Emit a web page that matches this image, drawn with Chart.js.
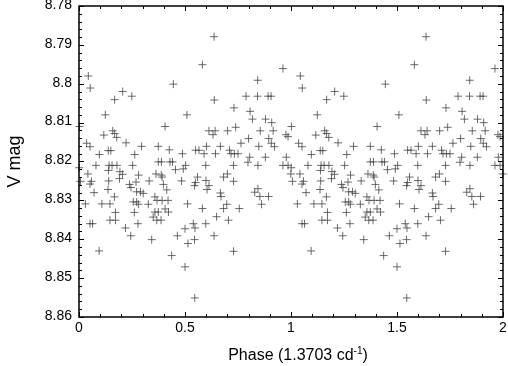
<!DOCTYPE html>
<html>
<head>
<meta charset="utf-8">
<script src="https://cdn.jsdelivr.net/npm/chart.js@4/dist/chart.umd.min.js"></script>
<style>
html, body { margin: 0; padding: 0; background: #fff; }
#wrap { width: 508px; height: 366px; }
</style>
</head>
<body>
<div id="wrap"><canvas id="lightCurve" width="508" height="366"></canvas></div>
<script>
//Folded light curve, one cycle
const phase = [
    0.044, 0.053, 0.168, 0.206, 0.249, 0.445, 0.124, 0.406, 0.509, 0.002,
    0.159, 0.168, 0.178, 0.117, 0.036, 0.052, 0.222, 0.638, 0.788, 0.842,
    0.892, 0.906, 0.637, 0.582, 0.962, 0.843, 0.731, 0.807, 0.818, 0.880,
    0.909, 0.613, 0.642, 0.632, 0.701, 0.739, 0.855, 0.916, 0.976, 0.986,
    0.800, 0.895, 0.764, 0.096, 0.138, 0.150, 0.263, 0.080, 0.142, 0.156,
    0.179, 0.253, 0.042, 0.139, 0.193, 0.205, 0.191, 0.007, 0.059, 0.052,
    0.071, 0.140, 0.137, 0.167, 0.238, 0.245, 0.030, 0.108, 0.146, 0.172,
    0.146, 0.172, 0.052, 0.064, 0.219, 0.244, 0.095, 0.001, 0.295, 0.374,
    0.426, 0.488, 0.374, 0.389, 0.429, 0.441, 0.455, 0.492, 0.281, 0.363,
    0.388, 0.392, 0.484, 0.331, 0.269, 0.398, 0.272, 0.290, 0.303, 0.414,
    0.256, 0.272, 0.280, 0.327, 0.358, 0.368, 0.392, 0.420, 0.406, 0.422,
    0.358, 0.374, 0.261, 0.350, 0.367, 0.387, 0.278, 0.343, 0.464, 0.500,
    0.437, 0.500, 0.550, 0.566, 0.590, 0.601, 0.667, 0.644, 0.710, 0.717,
    0.733, 0.750, 0.503, 0.598, 0.729, 0.559, 0.550, 0.545, 0.599, 0.613,
    0.604, 0.682, 0.700, 0.729, 0.667, 0.670, 0.512, 0.582, 0.682, 0.697,
    0.756, 0.649, 0.705, 0.539, 0.547, 0.598, 0.637, 0.545, 0.514, 0.729,
    0.546, 0.848, 0.907, 0.922, 0.805, 0.797, 0.879, 0.844, 0.978, 0.962,
    0.986, 0.999, 0.844, 0.829, 0.853, 0.894, 0.861
];

const vmag = [
    8.7980, 8.8011, 8.8041, 8.8020, 8.8032, 8.8001, 8.8080, 8.8110, 8.8080, 8.8110,
    8.8121, 8.8128, 8.8138, 8.8132, 8.8153, 8.8162, 8.8152, 8.8042, 8.8032, 8.8032,
    8.8032, 8.8032, 8.7879, 8.7951, 8.7961, 8.7991, 8.8062, 8.8071, 8.8091, 8.8091,
    8.8100, 8.8121, 8.8121, 8.8131, 8.8121, 8.8112, 8.8121, 8.8121, 8.8131, 8.8136,
    8.8141, 8.8141, 8.8153, 8.8182, 8.8172, 8.8172, 8.8182, 8.8210, 8.8210, 8.8210,
    8.8210, 8.8210, 8.8232, 8.8223, 8.8226, 8.8233, 8.8244, 8.8251, 8.8251, 8.8258,
    8.8280, 8.8250, 8.8272, 8.8291, 8.8259, 8.8267, 8.8309, 8.8309, 8.8309, 8.8331,
    8.8351, 8.8351, 8.8360, 8.8360, 8.8371, 8.8391, 8.8430, 8.8216, 8.8161, 8.8161,
    8.8170, 8.8180, 8.8201, 8.8201, 8.8201, 8.8201, 8.8221, 8.8219, 8.8235, 8.8232,
    8.8235, 8.8240, 8.8250, 8.8250, 8.8253, 8.8259, 8.8278, 8.8278, 8.8282, 8.8273,
    8.8304, 8.8304, 8.8310, 8.8310, 8.8291, 8.8300, 8.8300, 8.8300, 8.8322, 8.8330,
    8.8330, 8.8330, 8.8331, 8.8343, 8.8351, 8.8351, 8.8360, 8.8401, 8.8391, 8.8373,
    8.8442, 8.8471, 8.8171, 8.8171, 8.8180, 8.8161, 8.8161, 8.8180, 8.8171, 8.8180,
    8.8180, 8.8180, 8.8210, 8.8210, 8.8210, 8.8240, 8.8254, 8.8262, 8.8249, 8.8262,
    8.8272, 8.8240, 8.8232, 8.8251, 8.8281, 8.8290, 8.8309, 8.8321, 8.8321, 8.8310,
    8.8321, 8.8342, 8.8351, 8.8360, 8.8371, 8.8360, 8.8391, 8.8401, 8.8411, 8.8431,
    8.8551, 8.8161, 8.8153, 8.8162, 8.8189, 8.8202, 8.8189, 8.8210, 8.8189, 8.8210,
    8.8210, 8.8232, 8.8270, 8.8279, 8.8290, 8.8290, 8.8310
];

//Axis labels
const xTickLabels = ["0", "0.5", "1", "1.5", "2"];
const yTickLabels = ["8.78", "8.79", "8.8", "8.81", "8.82", "8.83", "8.84", "8.85", "8.86"];
const xTitle = "Phase (1.3703 cd";
const xTitleSup = "-1";
const yTitle = "V mag";

const yMin = 8.78;
const yStep = 0.01;
const fontFamily = "'Liberation Sans', Arial, sans-serif";

//Plot two cycles
const points = [];
for (let cycle = 0; cycle < 2; cycle++) {
    phase.forEach((p, i) => points.push({ x: p + cycle, y: vmag[i] }));
}

//Frame, inward ticks and x title with superscript
const frameTicks = {
    id: "frameTicks",
    afterDraw(chart) {
        const { ctx, chartArea: a, scales: { x, y } } = chart;
        ctx.save();
        ctx.strokeStyle = "#000";
        ctx.lineWidth = 1;
        ctx.beginPath();
        for (let i = 0; i <= 20; i++) {
            const px = Math.round(x.getPixelForValue(i / 10)) + 0.5;
            const len = i % 5 === 0 ? 5 : 3;
            ctx.moveTo(px, a.bottom); ctx.lineTo(px, a.bottom - len);
            ctx.moveTo(px, a.top); ctx.lineTo(px, a.top + len);
        }
        for (let i = 0; i <= 40; i++) {
            const py = Math.round(y.getPixelForValue(yMin + i * 0.002)) + 0.5;
            const len = i % 5 === 0 ? 5 : 3;
            ctx.moveTo(a.left, py); ctx.lineTo(a.left + len, py);
            ctx.moveTo(a.right, py); ctx.lineTo(a.right - len, py);
        }
        ctx.stroke();
        ctx.lineWidth = 1.5;
        ctx.strokeRect(a.left, a.top, a.right - a.left, a.bottom - a.top);

        //x title
        ctx.fillStyle = "#000";
        ctx.textBaseline = "alphabetic";
        ctx.textAlign = "left";
        ctx.font = "16px " + fontFamily;
        const w1 = ctx.measureText(xTitle).width;
        const w3 = ctx.measureText(")").width;
        ctx.font = "10px " + fontFamily;
        const w2 = ctx.measureText(xTitleSup).width;
        const cx = (a.left + a.right) / 2 + 7;
        const tx = cx - (w1 + w2 + w3) / 2;
        ctx.font = "16px " + fontFamily;
        ctx.fillText(xTitle, tx, 360);
        ctx.font = "10px " + fontFamily;
        ctx.fillText(xTitleSup, tx + w1, 354);
        ctx.font = "16px " + fontFamily;
        ctx.fillText(")", tx + w1 + w2, 360);
        ctx.restore();
    }
};

new Chart(document.querySelector("#lightCurve"), {
    type: "scatter",
    data: {
        datasets: [{
            data: points,
            pointStyle: "cross",
            pointRadius: 4,
            pointHoverRadius: 4,
            borderWidth: 1,
            borderColor: "rgba(70, 70, 70, 0.8)",
            backgroundColor: "rgba(70, 70, 70, 0.8)",
            clip: false
        }]
    },
    options: {
        responsive: false,
        animation: false,
        devicePixelRatio: 1,
        layout: { padding: { left: 0, top: 6, right: 5, bottom: 0 } },
        plugins: {
            legend: { display: false },
            tooltip: { enabled: false }
        },
        scales: {
            x: {
                type: "linear",
                min: 0,
                max: 2,
                grid: { display: false, drawTicks: false },
                border: { display: false },
                ticks: {
                    stepSize: 0.5,
                    padding: 3,
                    color: "#000",
                    font: { family: fontFamily, size: 14 },
                    maxRotation: 0,
                    callback: (v, i) => xTickLabels[i]
                },
                afterFit(scale) {
                    scale.height = 49;
                    scale.paddingLeft = 0;
                    scale.paddingRight = 0;
                }
            },
            y: {
                type: "linear",
                reverse: true,
                min: yMin,
                max: 8.86,
                grid: { display: false, drawTicks: false },
                border: { display: false },
                ticks: {
                    stepSize: yStep,
                    padding: 7,
                    labelOffset: -1,
                    color: "#000",
                    font: { family: fontFamily, size: 14 },
                    callback: v => yTickLabels[Math.round((v - yMin) / yStep)]
                },
                title: {
                    display: true,
                    text: yTitle,
                    color: "#000",
                    font: { family: fontFamily, size: 18 },
                    padding: { top: 4, bottom: 0 }
                },
                afterFit(scale) {
                    scale.width = 79;
                    scale.paddingTop = 0;
                    scale.paddingBottom = 0;
                }
            }
        }
    },
    plugins: [frameTicks]
});
</script>
</body>
</html>
